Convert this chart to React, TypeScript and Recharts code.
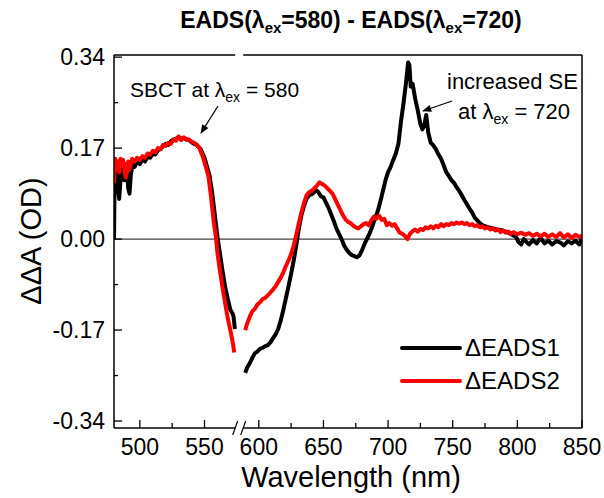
import React from "react";
import { LineChart, Line, XAxis, YAxis, ReferenceLine, Legend } from "recharts";

const FONT = '"Liberation Sans", Arial, sans-serif';

const W = 604;
const H = 498;
const M = { top: 55, right: 22, bottom: 0, left: 0 };
const Y_AXIS_W = 114;
const X_AXIS_H = 70;

// broken x axis: everything from BREAK_NM on is shifted left by GAP_NM
const BREAK_NM = 580;
const GAP_NM = 8;
const BREAK_U = 578;
const toAxis = (nm: number) => (nm < BREAK_NM ? nm : nm - GAP_NM);
const fromAxis = (u: number) => (u < BREAK_NM ? u : u + GAP_NM);

const X_MIN = 480;
const X_MAX = 850 - GAP_NM;
const Y_MIN = -0.353;
const Y_MAX = 0.344;

const X_TICKS_NM = [500, 525, 550, 600, 625, 650, 675, 700, 725, 750, 775, 800, 825, 850];
const X_LABELS_NM = [500, 550, 600, 650, 700, 750, 800, 850];
const Y_TICKS = [-0.34, -0.255, -0.17, -0.085, 0, 0.085, 0.17, 0.255, 0.34];
const Y_LABELS = [-0.34, -0.17, 0, 0.17, 0.34];

// [wavelength nm, ΔΔA]
const EADS1_LEFT: [number, number][] = [
  [480, 0.0], [480.5, 0.115], [482, 0.13], [483, 0.1], [484, 0.075], [485.5, 0.125],
  [487, 0.135], [488, 0.11], [489, 0.14], [490, 0.13], [491, 0.095], [492, 0.085],
  [493, 0.12], [494.5, 0.14], [496, 0.135], [498, 0.145], [500, 0.14], [502, 0.15],
  [504, 0.145], [506, 0.155], [508, 0.152], [510, 0.16], [512, 0.158], [514, 0.166],
  [516, 0.168], [518, 0.174], [520, 0.178], [522, 0.176], [524, 0.183], [526, 0.186],
  [528, 0.188], [530, 0.19], [532, 0.188], [534, 0.189], [536, 0.186], [538, 0.185],
  [540, 0.181], [542, 0.178], [544, 0.176], [547, 0.168], [550, 0.152], [552, 0.135],
  [554, 0.118], [556, 0.085], [558, 0.045], [560, 0.005], [562, -0.028], [564, -0.06],
  [566, -0.09], [568, -0.112], [570, -0.132], [571.5, -0.138], [572.5, -0.145], [573.5, -0.168],
];

const EADS1_RIGHT: [number, number][] = [
  [589.5, -0.25], [591, -0.24], [593, -0.232], [595, -0.222], [597, -0.213], [599, -0.21],
  [601, -0.205], [603, -0.203], [605, -0.2], [607, -0.198], [609, -0.193], [611, -0.185],
  [613, -0.178], [615, -0.168], [617, -0.152], [619, -0.132], [621, -0.11], [623, -0.088],
  [625, -0.065], [627, -0.04], [629, -0.012], [631, 0.02], [633, 0.045], [635, 0.062],
  [637, 0.076], [639, 0.082], [641, 0.084], [643, 0.088], [644.5, 0.091], [646, 0.088],
  [648, 0.08], [650, 0.078], [652, 0.068], [654, 0.058], [656, 0.046], [658, 0.034],
  [660, 0.02], [662, 0.01], [664, 0.0], [666, -0.012], [668, -0.02], [670, -0.026],
  [672, -0.03], [674, -0.032], [676, -0.034], [678, -0.03], [680, -0.02], [682, -0.008],
  [684, 0.002], [686, 0.012], [688, 0.025], [690, 0.04], [692, 0.052], [694, 0.07],
  [696, 0.09], [698, 0.11], [700, 0.125], [702, 0.135], [704, 0.148], [706, 0.16],
  [708, 0.178], [710, 0.22], [712, 0.255], [714, 0.295], [715.5, 0.33], [716.5, 0.325],
  [717.5, 0.285], [719, 0.29], [721, 0.262], [723, 0.24], [725, 0.215], [726.5, 0.205],
  [728, 0.212], [729.5, 0.232], [731, 0.2], [733, 0.18], [735, 0.175], [737, 0.168],
  [739, 0.158], [741, 0.15], [743, 0.138], [745, 0.125], [747, 0.118], [749, 0.11],
  [751, 0.105], [753, 0.097], [755, 0.09], [757, 0.082], [759, 0.073], [761, 0.065],
  [763, 0.057], [765, 0.05], [767, 0.04], [769, 0.035], [771, 0.03], [773, 0.026],
  [775, 0.024], [778, 0.022], [781, 0.02], [784, 0.018], [787, 0.017], [790, 0.015],
  [793, 0.012], [796, 0.008], [799, 0.004], [801, -0.006], [803, -0.01], [805, 0.0],
  [807, -0.005], [809, -0.01], [812, -0.002], [815, -0.008], [818, 0.002], [821, -0.008],
  [824, -0.003], [827, -0.01], [830, -0.004], [833, -0.006], [836, -0.012], [839, -0.004],
  [842, -0.008], [845, -0.003], [848, -0.01], [850, 0.002],
];

const EADS2_LEFT: [number, number][] = [
  [480, 0.105], [481, 0.15], [482, 0.13], [483, 0.145], [484, 0.125], [485, 0.15],
  [486, 0.14], [487, 0.148], [488, 0.13], [489, 0.115], [490, 0.125], [491, 0.145],
  [492, 0.13], [493, 0.14], [494, 0.15], [496, 0.145], [498, 0.152], [500, 0.148],
  [502, 0.155], [504, 0.152], [506, 0.16], [508, 0.158], [510, 0.165], [512, 0.162],
  [514, 0.17], [516, 0.168], [518, 0.176], [520, 0.174], [522, 0.18], [524, 0.178],
  [526, 0.186], [528, 0.184], [530, 0.192], [532, 0.185], [534, 0.19], [536, 0.186],
  [538, 0.186], [540, 0.182], [542, 0.18], [544, 0.176], [546, 0.17], [549, 0.152],
  [551, 0.135], [553, 0.118], [555, 0.08], [557, 0.035], [559, 0.0], [560, -0.026],
  [562, -0.06], [564, -0.092], [566, -0.12], [568, -0.148], [570, -0.17], [572, -0.195],
  [573, -0.212],
];

const EADS2_RIGHT: [number, number][] = [
  [589.5, -0.17], [591, -0.158], [593, -0.145], [595, -0.135], [597, -0.13], [599, -0.122],
  [601, -0.118], [603, -0.112], [605, -0.11], [607, -0.105], [609, -0.1], [611, -0.094],
  [613, -0.088], [615, -0.08], [617, -0.072], [619, -0.062], [621, -0.05], [623, -0.04],
  [625, -0.028], [627, -0.012], [629, 0.008], [631, 0.03], [633, 0.05], [635, 0.068],
  [637, 0.082], [639, 0.088], [641, 0.09], [643, 0.095], [645, 0.1], [647, 0.106],
  [649, 0.103], [651, 0.1], [653, 0.095], [655, 0.09], [657, 0.085], [659, 0.075],
  [661, 0.065], [663, 0.055], [665, 0.045], [667, 0.037], [669, 0.032], [671, 0.03],
  [673, 0.025], [675, 0.022], [677, 0.02], [679, 0.024], [681, 0.028], [683, 0.03],
  [685, 0.026], [687, 0.035], [689, 0.042], [691, 0.038], [693, 0.044], [695, 0.036],
  [697, 0.038], [699, 0.026], [701, 0.03], [703, 0.025], [705, 0.028], [707, 0.02],
  [709, 0.012], [711, 0.01], [713, 0.006], [715, 0.0], [717, 0.01], [719, 0.015],
  [721, 0.018], [723, 0.014], [725, 0.019], [727, 0.017], [729, 0.022], [731, 0.02],
  [733, 0.024], [735, 0.02], [737, 0.025], [739, 0.022], [741, 0.028], [743, 0.024],
  [745, 0.028], [747, 0.026], [749, 0.03], [751, 0.028], [753, 0.031], [755, 0.029],
  [757, 0.031], [759, 0.028], [761, 0.03], [763, 0.026], [765, 0.028], [767, 0.024],
  [769, 0.026], [771, 0.022], [773, 0.024], [775, 0.02], [777, 0.022], [779, 0.018],
  [781, 0.02], [783, 0.016], [785, 0.018], [787, 0.013], [789, 0.016], [791, 0.012],
  [793, 0.014], [795, 0.01], [797, 0.013], [800, 0.009], [803, 0.012], [806, 0.008],
  [809, 0.011], [812, 0.006], [815, 0.01], [818, 0.005], [821, 0.01], [824, 0.004],
  [827, 0.009], [830, 0.004], [833, 0.011], [836, 0.003], [839, 0.009], [842, 0.002],
  [845, 0.008], [848, 0.004], [850, 0.007],
];

const toRows = (left: [number, number][], right: [number, number][]) => [
  ...left.map(([nm, v]) => ({ u: toAxis(nm), v })),
  { u: BREAK_U, v: null },
  ...right.map(([nm, v]) => ({ u: toAxis(nm), v })),
];

const eads1 = toRows(EADS1_LEFT, EADS1_RIGHT);
const eads2 = toRows(EADS2_LEFT, EADS2_RIGHT);

const xTicks = [...X_TICKS_NM.slice(0, 3).map(toAxis), BREAK_U, ...X_TICKS_NM.slice(3).map(toAxis)];

// plot box, from the same margins the chart uses
const PL = M.left + Y_AXIS_W;
const PR = W - M.right;
const PT = M.top;
const PB = H - M.bottom - X_AXIS_H;
const breakX = PL + ((BREAK_U - X_MIN) / (X_MAX - X_MIN)) * (PR - PL);

const BreakMark = ({ x, y }: { x: number; y: number }) => (
  <g>
    <line x1={x - 8} y1={y + 7} x2={x - 3} y2={y - 7} stroke="#000" strokeWidth={1.2} />
    <line x1={x} y1={y + 7} x2={x + 5} y2={y - 7} stroke="#000" strokeWidth={1.2} />
  </g>
);

const BottomTick = ({ x, y, payload }: any) => {
  if (payload.value === BREAK_U) return <BreakMark x={x} y={y} />;
  const nm = fromAxis(payload.value);
  const major = X_LABELS_NM.includes(nm);
  return (
    <g>
      <line x1={x} x2={x} y1={y} y2={y - (major ? 8 : 5)} stroke="#000" strokeWidth={1.3} />
      {major && (
        <text x={x} y={y + 27} textAnchor="middle" fontSize={23} fontFamily={FONT} fill="#000">
          {nm}
        </text>
      )}
    </g>
  );
};

const TopTick = ({ x, y, payload }: any) => {
  if (payload.value === BREAK_U) return <BreakMark x={x} y={y} />;
  const major = X_LABELS_NM.includes(fromAxis(payload.value));
  return <line x1={x} x2={x} y1={y} y2={y + (major ? 8 : 5)} stroke="#000" strokeWidth={1.3} />;
};

const LeftTick = ({ x, y, payload }: any) => {
  const v = payload.value;
  const major = Y_LABELS.includes(v);
  return (
    <g>
      <line x1={x} x2={x + (major ? 8 : 4)} y1={y} y2={y} stroke="#000" strokeWidth={1.3} />
      {major && (
        <text x={x - 9} y={y} dy="0.36em" textAnchor="end" fontSize={23} fontFamily={FONT} fill="#000">
          {v.toFixed(2)}
        </text>
      )}
    </g>
  );
};

const RightTick = ({ x, y, payload }: any) => {
  const major = Y_LABELS.includes(payload.value);
  return <line x1={x} x2={x - (major ? 8 : 4)} y1={y} y2={y} stroke="#000" strokeWidth={1.3} />;
};

const LegendBox = ({ payload }: any) => (
  <div style={{ fontFamily: FONT, fontSize: 24, color: "#000" }}>
    {(payload || []).map((p: any) => (
      <div key={p.value} style={{ display: "flex", alignItems: "center", height: 33 }}>
        <svg width={62} height={10}>
          <line x1={2} x2={60} y1={5} y2={5} stroke={p.color} strokeWidth={4} strokeLinecap="round" />
        </svg>
        <span style={{ marginLeft: 3 }}>{p.value}</span>
      </div>
    ))}
  </div>
);

const axisCommon = { tickSize: 0, tickMargin: 0, tickLine: false, axisLine: false, interval: 0 as const };

export default function App() {
  return (
    <div style={{ position: "absolute", left: 0, top: 0, width: W, height: H, background: "#fff" }}>
      <LineChart width={W} height={H} margin={M}>
        <XAxis
          {...axisCommon}
          xAxisId="b"
          dataKey="u"
          type="number"
          domain={[X_MIN, X_MAX]}
          ticks={xTicks}
          height={X_AXIS_H}
          tick={<BottomTick />}
          allowDataOverflow
        />
        <XAxis
          {...axisCommon}
          xAxisId="t"
          orientation="top"
          dataKey="u"
          type="number"
          domain={[X_MIN, X_MAX]}
          ticks={xTicks}
          height={0}
          tick={<TopTick />}
        />
        <YAxis
          {...axisCommon}
          yAxisId="l"
          type="number"
          domain={[Y_MIN, Y_MAX]}
          ticks={Y_TICKS}
          width={Y_AXIS_W}
          tick={<LeftTick />}
          allowDataOverflow
        />
        <YAxis
          {...axisCommon}
          yAxisId="r"
          orientation="right"
          type="number"
          domain={[Y_MIN, Y_MAX]}
          ticks={Y_TICKS}
          width={0}
          tick={<RightTick />}
        />
        <ReferenceLine xAxisId="b" yAxisId="l" y={0} stroke="#444" strokeWidth={1.2} />
        <Line
          xAxisId="b"
          yAxisId="l"
          data={eads1}
          dataKey="v"
          name="ΔEADS1"
          stroke="#000000"
          strokeWidth={4}
          strokeLinejoin="round"
          dot={false}
          activeDot={false}
          connectNulls={false}
          type="linear"
          isAnimationActive={false}
        />
        <Line
          xAxisId="b"
          yAxisId="l"
          data={eads2}
          dataKey="v"
          name="ΔEADS2"
          stroke="#ff0000"
          strokeWidth={4}
          strokeLinejoin="round"
          dot={false}
          activeDot={false}
          connectNulls={false}
          type="linear"
          isAnimationActive={false}
        />
        <Legend
          layout="vertical"
          align="center"
          verticalAlign="middle"
          content={<LegendBox />}
          wrapperStyle={{ left: 400, top: 331, width: 190 }}
        />
      </LineChart>

      <svg
        width={W}
        height={H}
        style={{ position: "absolute", left: 0, top: 0, pointerEvents: "none" }}
        fontFamily={FONT}
      >
        <defs>
          <marker id="ah" viewBox="0 0 10 10" refX="9" refY="5" markerWidth="9" markerHeight="7" orient="auto">
            <path d="M0,1 L10,5 L0,9 Z" fill="#000" />
          </marker>
        </defs>

        {/* frame, top and bottom edges interrupted at the axis break */}
        <g stroke="#000" strokeWidth={1.5} fill="none">
          <line x1={PL} y1={PT} x2={PL} y2={PB} />
          <line x1={PR} y1={PT} x2={PR} y2={PB} />
          <line x1={PL} y1={PT} x2={breakX - 5.5} y2={PT} />
          <line x1={breakX + 2.5} y1={PT} x2={PR} y2={PT} />
          <line x1={PL} y1={PB} x2={breakX - 5.5} y2={PB} />
          <line x1={breakX + 2.5} y1={PB} x2={PR} y2={PB} />
        </g>

        <text x={351} y={28} textAnchor="middle" fontSize={23} fontWeight="bold" fill="#000">
          EADS(λ<tspan dy={5} fontSize={15}>ex</tspan>
          <tspan dy={-5}>=580) - EADS(λ</tspan>
          <tspan dy={5} fontSize={15}>ex</tspan>
          <tspan dy={-5}>=720)</tspan>
        </text>
        <text transform="translate(31,241) rotate(-90)" textAnchor="middle" dy="0.35em" fontSize={29} fill="#000">
          ΔΔA (OD)
        </text>
        <text x={351} y={487} textAnchor="middle" fontSize={29} fill="#000">
          Wavelength (nm)
        </text>

        <text x={130} y={97} fontSize={21} fill="#000">
          SBCT at λ<tspan dy={5} fontSize={14}>ex</tspan>
          <tspan dy={-5}> = 580</tspan>
        </text>
        <line x1={218} y1={106} x2={201} y2={133} stroke="#000" strokeWidth={1.3} markerEnd="url(#ah)" />

        <text x={447} y={89} fontSize={22} fill="#000">
          increased SE
        </text>
        <text x={458} y={119} fontSize={22} fill="#000">
          at λ<tspan dy={5} fontSize={14}>ex</tspan>
          <tspan dy={-5}> = 720</tspan>
        </text>
        <line x1={452} y1={101} x2={423} y2={111} stroke="#000" strokeWidth={1.3} markerEnd="url(#ah)" />
      </svg>
    </div>
  );
}
